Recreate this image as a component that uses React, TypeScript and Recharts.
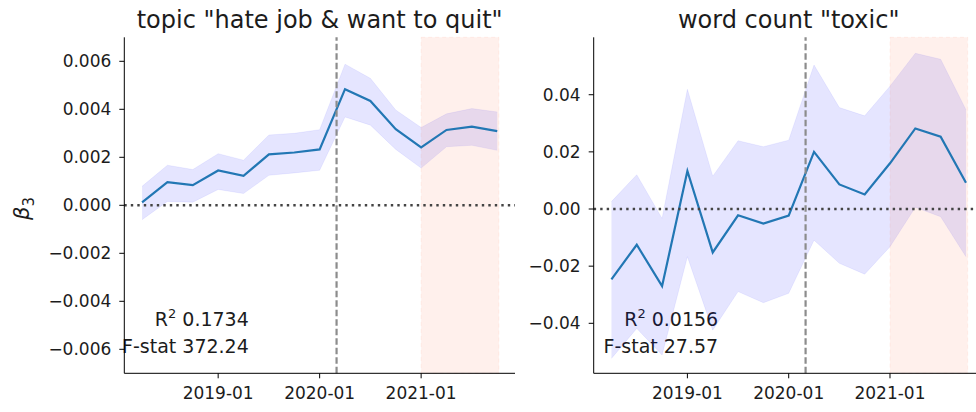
import {
  Area,
  ComposedChart,
  Customized,
  Line,
  ReferenceArea,
  ReferenceLine,
  XAxis,
  YAxis,
} from "recharts";

// quarterly estimates of beta_3 with 95% band
const quarters = [
  "2018-04", "2018-07", "2018-10", "2019-01", "2019-04", "2019-07", "2019-10", "2020-01",
  "2020-04", "2020-07", "2020-10", "2021-01", "2021-04", "2021-07", "2021-10",
];

const hateMean = [
  0.00012, 0.00096, 0.00084, 0.00145, 0.00123, 0.00212, 0.0022, 0.00233,
  0.00484, 0.00435, 0.00317, 0.00241, 0.00314, 0.00328, 0.00309,
];
const hateLow = [
  -0.0006, 0.00016, 0.00013, 0.00066, 0.00049, 0.00125, 0.00135, 0.00146,
  0.00368, 0.00334, 0.00233, 0.00155, 0.00244, 0.0025, 0.00229,
];
const hateHigh = [
  0.00079, 0.00167, 0.00149, 0.00215, 0.00188, 0.00293, 0.003, 0.00315,
  0.00588, 0.00529, 0.00397, 0.00324, 0.00381, 0.00403, 0.00389,
];

const toxicMean = [
  -0.0246, -0.0125, -0.027, 0.0133, -0.0152, -0.0022, -0.0051, -0.0023,
  0.02, 0.0086, 0.0051, 0.016, 0.0282, 0.0253, 0.0092,
];
const toxicLow = [
  -0.0523, -0.0418, -0.0511, -0.0167, -0.0424, -0.0289, -0.0328, -0.0295,
  -0.0109, -0.019, -0.0228, -0.0132, 0.0006, -0.0027, -0.0167,
];
const toxicHigh = [
  0.0026, 0.012, -0.0033, 0.0419, 0.0115, 0.0239, 0.0218, 0.0241,
  0.0504, 0.0355, 0.0326, 0.043, 0.0545, 0.0524, 0.0347,
];

const xTickLabels = ["2019-01", "2020-01", "2021-01"];
const hateTicks = [-0.006, -0.004, -0.002, 0, 0.002, 0.004, 0.006];
const toxicTicks = [-0.04, -0.02, 0, 0.02, 0.04];

const covidStart = "2020-03";
const shadeStart = "2021-01";
const shadeEnd = "2021-10-07";

// months since 2018-01 (day adds a fraction)
const monthIndex = (s: string) => {
  const [y, m, d] = s.split("-").map(Number);
  return (y - 2018) * 12 + (m - 1) + (d ? (d - 1) / 30 : 0);
};

const FONT = "DejaVu Sans";
const TEXT = "#1c1c1c";
const X_DOMAIN = [0.9, 47.1];
const PLOT_TOP = 37.3;
const PLOT_BOTTOM = 373.3;
const H = 412;

const minus = (s: string) => s.replace("-", "\u2212");

function Panel({
  left,
  width,
  plotLeft,
  plotRight,
  yAxisWidth,
  title,
  mean,
  low,
  high,
  yDomain,
  yTicks,
  digits,
  r2,
  fstat,
  yLabel,
}: {
  left: number;
  width: number;
  plotLeft: number;
  plotRight: number;
  yAxisWidth: number;
  title: string;
  mean: number[];
  low: number[];
  high: number[];
  yDomain: number[];
  yTicks: number[];
  digits: number;
  r2: string;
  fstat: string;
  yLabel?: boolean;
}) {
  const rows = quarters.map((q, i) => ({
    t: monthIndex(q),
    mean: mean[i],
    band: [low[i], high[i]],
  }));
  const plotCenter = (plotLeft + plotRight) / 2;
  const noteX = plotLeft + 124.5;

  const Overlay = () => (
    <g fontFamily={FONT} fill={TEXT}>
      <text x={plotCenter} y={28.3} fontSize={24} textAnchor="middle">
        {title}
      </text>
      <text x={noteX} y={326} fontSize={19} textAnchor="end">
        R<tspan fontSize={13} dy={-8}>2</tspan>
        <tspan dy={8}> {r2}</tspan>
      </text>
      <text x={noteX} y={352.5} fontSize={19} textAnchor="end">
        F-stat {fstat}
      </text>
      {yLabel && (
        <text
          x={28.7}
          y={208.5}
          fontSize={21}
          textAnchor="middle"
          transform="rotate(-90, 28.7, 208.5)"
        >
          <tspan fontStyle="italic">β</tspan>
          <tspan fontSize={15} dy={5}>3</tspan>
        </text>
      )}
    </g>
  );

  return (
    <div style={{ position: "absolute", left, top: 0, width, height: H }}>
      <ComposedChart
        width={width}
        height={H}
        data={rows}
        margin={{
          top: PLOT_TOP,
          right: width - plotRight,
          bottom: H - PLOT_BOTTOM - 30,
          left: plotLeft - yAxisWidth,
        }}
      >
        <XAxis
          dataKey="t"
          type="number"
          domain={X_DOMAIN}
          ticks={xTickLabels.map(monthIndex)}
          tickFormatter={(v) => xTickLabels[xTickLabels.map(monthIndex).indexOf(v)]}
          allowDataOverflow
          height={30}
          tickSize={5}
          tickMargin={9}
          stroke="#000"
          tick={{ fill: TEXT, fontSize: 17, fontFamily: FONT }}
        />
        <YAxis
          type="number"
          domain={yDomain}
          ticks={yTicks}
          allowDataOverflow
          width={yAxisWidth}
          tickSize={5}
          tickMargin={8}
          stroke="#000"
          tick={{ fill: TEXT, fontSize: 17, fontFamily: FONT }}
          tickFormatter={(v) => minus(Number(v).toFixed(digits))}
        />
        <Area
          type="linear"
          dataKey="band"
          fill="#0000ff"
          fillOpacity={0.1}
          stroke="#0000ff"
          strokeOpacity={0.06}
          isAnimationActive={false}
        />
        <ReferenceArea
          x1={monthIndex(shadeStart)}
          x2={monthIndex(shadeEnd)}
          fill="#ff6a40"
          fillOpacity={0.1}
          stroke="#ff6a40"
          strokeOpacity={0.08}
          strokeDasharray="4 3"
        />
        <Line
          type="linear"
          dataKey="mean"
          stroke="#2277b4"
          strokeWidth={2.2}
          dot={false}
          isAnimationActive={false}
        />
        <ReferenceLine y={0} stroke="#444" strokeWidth={2.4} strokeDasharray="2.4 4.1" />
        <ReferenceLine
          x={monthIndex(covidStart)}
          stroke="#8c8c8c"
          strokeWidth={2.2}
          strokeDasharray="6.5 3"
        />
        <Customized component={<Overlay />} />
      </ComposedChart>
    </div>
  );
}

export default function App() {
  return (
    <div
      style={{
        position: "absolute",
        left: 0,
        top: 0,
        width: 976,
        height: H,
        overflow: "hidden",
        background: "#fff",
      }}
    >
      <Panel
        left={0}
        width={520}
        plotLeft={124.3}
        plotRight={515}
        yAxisWidth={70}
        title={'topic "hate job & want to quit"'}
        mean={hateMean}
        low={hateLow}
        high={hateHigh}
        yDomain={[-0.007, 0.007]}
        yTicks={hateTicks}
        digits={3}
        r2="0.1734"
        fstat="372.24"
        yLabel
      />
      <Panel
        left={520}
        width={480}
        plotLeft={73.7}
        plotRight={463.7}
        yAxisWidth={60}
        title={'word count "toxic"'}
        mean={toxicMean}
        low={toxicLow}
        high={toxicHigh}
        yDomain={[-0.0575, 0.0601]}
        yTicks={toxicTicks}
        digits={2}
        r2="0.0156"
        fstat="27.57"
      />
    </div>
  );
}
